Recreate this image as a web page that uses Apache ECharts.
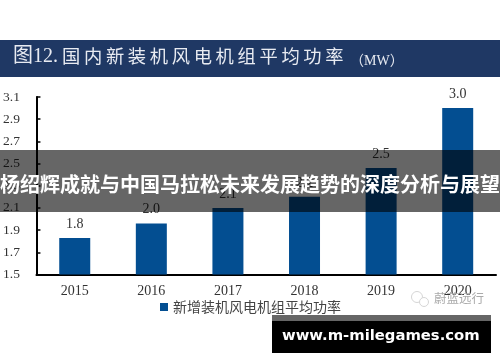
<!DOCTYPE html>
<html><head><meta charset="utf-8">
<style>html,body{margin:0;padding:0;background:#fff}#c{width:500px;height:362px}</style>
<script src="https://cdn.jsdelivr.net/npm/echarts@6/dist/echarts.min.js"></script>
</head><body><div id="c"></div>
<script>
const categories = ['2015','2016','2017','2018','2019','2020'];
const values = [1.83,1.96,2.1,2.2,2.46,3.0];
const yTicks = ['1.5','1.7','1.9','2.1','2.3','2.5','2.7','2.9','3.1'];
const titleHead = '图12.';
const titleText = '国内新装机风电机组平均功率';
const titleUnit = '（MW）';
const seriesName = '新增装机风电机组平均功率';
const overlayText = '杨绍辉成就与中国马拉松未来发展趋势的深度分析与展望';
const siteText = 'www.m-milegames.com';
const wechatText = '蔚蓝远行';
const serif = '"Liberation Serif","Noto Sans CJK SC",serif';
const cjk = '"Noto Sans CJK SC",serif';
const chart = echarts.init(document.getElementById('c'));
chart.setOption({
  animation:false,
  grid:{left:36,right:4,top:97,bottom:87.5,containLabel:false},
  legend:{show:true,left:160,top:300,itemWidth:8,itemHeight:8,itemGap:3,padding:0,
    textStyle:{fontFamily:cjk,fontSize:14,color:'#444'},
    data:[{name:seriesName,icon:'rect'}]},
  xAxis:{type:'category',data:categories,
    axisLine:{lineStyle:{color:'#000',width:2}},axisTick:{show:false},
    axisLabel:{fontFamily:serif,fontSize:14,color:'#333',margin:10}},
  yAxis:{type:'value',min:1.5,max:3.1,interval:0.2,
    axisLine:{show:true,lineStyle:{color:'#000',width:2}},
    axisTick:{show:true,inside:true,length:4,lineStyle:{color:'#000',width:1.5}},
    splitLine:{show:false},
    axisLabel:{fontFamily:serif,fontSize:13.5,color:'#333',margin:25,align:'center',
      formatter:v=>yTicks[Math.round((v-1.5)/0.2)]}},
  series:[{name:seriesName,type:'bar',data:values,barWidth:31,
    itemStyle:{color:'#034e91'},
    label:{show:true,position:'top',distance:7,fontFamily:serif,fontSize:14,color:'#333',
      formatter:p=>p.value.toFixed(1)}}],
  graphic:[
    {type:'rect',shape:{x:0,y:40,width:500,height:37},style:{fill:'#1f3864'},z:1},
    {type:'text',left:13,top:47,style:{text:titleHead,fontFamily:serif,fontSize:20,fill:'#e8ebf2'},z:2},
    {type:'text',left:62,top:47,style:{text:titleText.split('').join('\u2009'),fontFamily:cjk,fontSize:18.3,fill:'#e8ebf2'},z:2},
    {type:'text',left:350,top:54,style:{text:titleUnit,fontFamily:serif,fontSize:14,fill:'#e8ebf2'},z:2},
    {type:'circle',shape:{cx:417,cy:297,r:5.5},style:{fill:'none',stroke:'#d5d5d5',lineWidth:1},z:2},
    {type:'circle',shape:{cx:424,cy:302,r:4.5},style:{fill:'#fff',stroke:'#d5d5d5',lineWidth:1},z:2},
    {type:'text',left:434,top:292,style:{text:wechatText,fontFamily:cjk,fontSize:12.5,fill:'#aaa'},z:2},
    {type:'rect',shape:{x:0,y:150,width:500,height:62},style:{fill:'rgba(0,0,0,0.6)'},z:50},
    {type:'text',left:0,top:174,style:{text:overlayText,fontFamily:'"Noto Sans CJK SC",sans-serif',fontSize:20,fontWeight:'bold',fill:'#fff'},z:51},
    {type:'rect',shape:{x:272,y:321,width:219,height:32},style:{fill:'#000'},z:50},
    {type:'rect',shape:{x:272,y:315,width:219,height:6},style:{fill:'#666'},z:51},
    {type:'text',left:282,top:329,style:{text:siteText,fontFamily:'"DejaVu Sans",sans-serif',fontSize:14.8,fontWeight:'bold',fill:'#fff'},z:51}
  ]
});
</script></body></html>
